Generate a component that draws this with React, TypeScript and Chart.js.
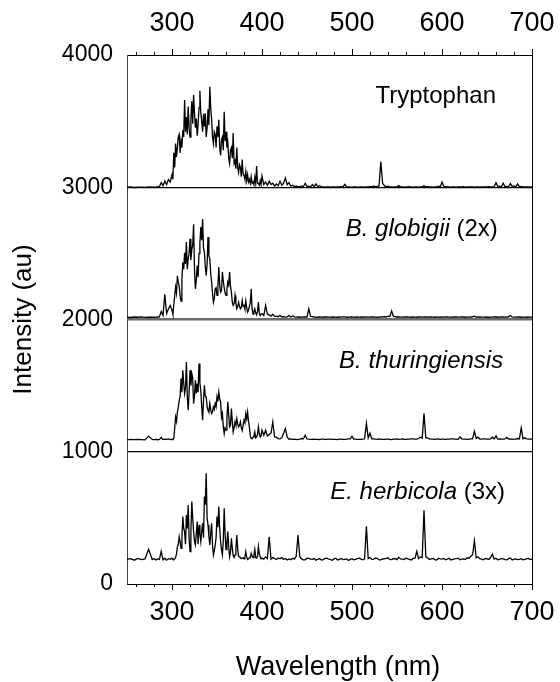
import React, { useEffect, useRef } from "react";
import { Chart, registerables } from "chart.js";

Chart.register(...registerables);

const FONT = "'Liberation Sans', Arial, Helvetica, sans-serif";

// Wavelength grid (nm): coarse tails, 1 nm in the emission band
const WAVELENGTHS = [
  250, 254, 258, 262, 266, 270, 274, 278,
  280, 282, 284, 286, 288, 290, 292, 294, 296, 298,
  300, 301, 302, 303, 304, 305, 306, 307, 308, 309,
  310, 311, 312, 313, 314, 315, 316, 317, 318, 319,
  320, 321, 322, 323, 324, 325, 326, 327, 328, 329,
  330, 331, 332, 333, 334, 335, 336, 337, 338, 339,
  340, 341, 342, 343, 344, 345, 346, 347, 348, 349,
  350, 351, 352, 353, 354, 355, 356, 357, 358, 359,
  360, 361, 362, 363, 364, 365, 366, 367, 368, 369,
  370, 371, 372, 373, 374, 375, 376, 377, 378, 379,
  380, 381, 382, 383, 384, 385, 386, 387, 388, 389,
  390, 391, 392, 393, 394, 395, 396, 397, 398, 399,
  400,
  402, 404, 406, 408, 410, 412, 414, 416, 418, 420,
  422, 424, 426, 428, 430, 432, 434, 436, 438, 440,
  442, 444, 446, 448, 450, 452, 454, 456, 458, 460,
  462, 464, 466, 468, 470, 472, 474, 476, 478, 480,
  482, 484, 486, 488, 490, 492, 494, 496, 498, 500,
  502, 504, 506, 508, 510, 512, 514, 516, 518, 520,
  522, 524, 526, 528, 530, 532, 534, 536, 538, 540,
  542, 544, 546, 548, 550, 552, 554, 556, 558, 560,
  562, 564, 566, 568, 570, 572, 574, 576, 578, 580,
  582, 584, 586, 588, 590, 592, 594, 596, 598, 600,
  602, 604, 606, 608, 610, 612, 614, 616, 618, 620,
  622, 624, 626, 628, 630, 632, 634, 636, 638, 640,
  642, 644, 646, 648, 650, 652, 654, 656, 658, 660,
  662, 664, 666, 668, 670, 672, 674, 676, 678, 680,
  682, 684, 686, 688, 690, 692, 694, 696, 698, 700,
];

const TRYPTOPHAN = [
  3000, 3002, 2998, 3001, 3000, 2999, 3003, 3000,
  3001, 3000, 3005, 3003, 3035, 3012, 3048, 3020, 3058, 3040,
  3095, 3060, 3260, 3150, 3330, 3230, 3300, 3380, 3400, 3260,
  3350, 3300, 3430, 3380, 3660, 3420, 3530, 3400, 3610, 3450,
  3380, 3520, 3650, 3480, 3700, 3560, 3450, 3520, 3390, 3470,
  3600, 3730, 3560, 3500, 3420, 3555, 3460, 3560, 3380, 3450,
  3590, 3470, 3760, 3600, 3520, 3380, 3330, 3420, 3400, 3300,
  3460, 3380, 3510, 3300, 3240, 3360, 3380, 3280, 3570, 3350,
  3420, 3300, 3340, 3220, 3180, 3280, 3300, 3220, 3410, 3180,
  3200, 3140, 3300, 3150, 3110, 3170, 3150, 3080, 3210, 3100,
  3090, 3060, 3120, 3050, 3095, 3040, 3060, 3030, 3080, 3030,
  3040, 3020, 3075, 3030, 3160, 3030, 3030, 3015, 3050, 3020,
  3085,
  3020, 3040, 3015, 3045, 3020, 3030, 3010, 3025, 3012, 3045,
  3015, 3030, 3070, 3020, 3035, 3008, 3015, 3005, 3010, 3004,
  3005, 3010, 3004, 3030, 3006, 3008, 3003, 3020, 3005, 3025,
  3004, 3012, 3002, 3003, 3001, 3002, 3003, 3001, 3002, 3003,
  3001, 3002, 3003, 3004, 3002, 3022, 3003, 3003, 3001, 3001,
  3002, 3002, 3001, 3000, 3002, 3003, 3001, 3002, 3003, 3004,
  3003, 3010, 3004, 3006, 3010, 3195, 3030, 3012, 3004, 3008,
  3002, 3003, 3001, 3002, 3003, 3012, 3002, 3003, 3001, 3002,
  3003, 3004, 3002, 3001, 3002, 3003, 3001, 3002, 3003, 3012,
  3003, 3004, 3002, 3002, 3001, 3003, 3002, 3008, 3003, 3040,
  3006, 3005, 3003, 3002, 3001, 3003, 3002, 3001, 3003, 3002,
  3002, 3004, 3001, 3002, 3003, 3003, 3002, 3001, 3002, 3002,
  3001, 3003, 3002, 3002, 3003, 3004, 3002, 3003, 3004, 3035,
  3005, 3008, 3004, 3030, 3003, 3006, 3004, 3028, 3005, 3010,
  3003, 3025, 3004, 3004, 3002, 3003, 3002, 3002, 3001, 3003,
];

const GLOBIGII = [
  2018, 2015, 2019, 2017, 2020, 2016, 2018, 2017,
  2018, 2016, 2019, 2020, 2060, 2030, 2190, 2045, 2080, 2105,
  2070, 2040, 2110, 2180, 2245, 2200, 2330, 2280, 2255, 2180,
  2140, 2300, 2430, 2380, 2505, 2420, 2585, 2380, 2460, 2500,
  2610, 2450, 2530, 2560, 2720, 2380, 2232, 2300, 2408, 2320,
  2500, 2580, 2700, 2600, 2760, 2540, 2508, 2400, 2333, 2420,
  2623, 2480, 2460, 2350, 2283, 2200, 2131, 2160, 2232, 2240,
  2182, 2250, 2396, 2260, 2207, 2220, 2358, 2290, 2240, 2200,
  2182, 2230, 2283, 2260, 2358, 2250, 2207, 2130, 2106, 2120,
  2182, 2120, 2081, 2100, 2131, 2100, 2081, 2090, 2144, 2100,
  2106, 2080, 2140, 2090, 2056, 2070, 2100, 2130, 2232, 2080,
  2040, 2060, 2081, 2050, 2035, 2060, 2131, 2050, 2030, 2040,
  2045,
  2030, 2106, 2040, 2035, 2025, 2040, 2022, 2025, 2020, 2032,
  2019, 2021, 2018, 2020, 2030, 2019, 2027, 2020, 2018, 2019,
  2017, 2018, 2019, 2020, 2019, 2080, 2024, 2022, 2019, 2018,
  2017, 2019, 2018, 2017, 2019, 2020, 2018, 2018, 2017, 2019,
  2018, 2017, 2019, 2018, 2020, 2020, 2017, 2018, 2019, 2019,
  2018, 2017, 2019, 2018, 2017, 2020, 2018, 2019, 2018, 2018,
  2019, 2020, 2018, 2017, 2018, 2019, 2020, 2022, 2019, 2025,
  2022, 2065, 2024, 2022, 2019, 2019, 2018, 2018, 2019, 2020,
  2019, 2018, 2017, 2019, 2018, 2017, 2019, 2019, 2018, 2020,
  2019, 2018, 2020, 2019, 2018, 2017, 2019, 2018, 2017, 2020,
  2018, 2019, 2019, 2018, 2018, 2017, 2020, 2019, 2018, 2018,
  2019, 2020, 2017, 2018, 2018, 2019, 2020, 2025, 2018, 2020,
  2019, 2018, 2018, 2019, 2017, 2017, 2018, 2018, 2019, 2019,
  2017, 2018, 2019, 2020, 2018, 2019, 2020, 2030, 2019, 2018,
  2018, 2019, 2019, 2017, 2018, 2018, 2017, 2019, 2018, 2018,
];

const THURINGIENSIS = [
  1090, 1093, 1091, 1094, 1092, 1090, 1118, 1093,
  1092, 1094, 1091, 1093, 1108, 1092, 1095, 1093, 1097, 1092,
  1096, 1094, 1100, 1180, 1263, 1230, 1301, 1340, 1389, 1420,
  1553, 1450, 1616, 1520, 1440, 1480, 1679, 1420, 1314, 1450,
  1616, 1500, 1590, 1560, 1364, 1420, 1541, 1440, 1515, 1450,
  1667, 1520, 1465, 1340, 1238, 1390, 1503, 1420, 1415, 1340,
  1314, 1300, 1364, 1320, 1289, 1300, 1339, 1320, 1364, 1340,
  1415, 1380, 1452, 1400, 1380, 1260, 1289, 1190, 1137, 1180,
  1163, 1250, 1377, 1280, 1188, 1200, 1326, 1230, 1150, 1180,
  1226, 1200, 1251, 1210, 1188, 1200, 1226, 1180, 1160, 1200,
  1238, 1220, 1289, 1250, 1301, 1230, 1188, 1120, 1100, 1098,
  1110, 1120, 1150, 1105, 1112, 1130, 1188, 1140, 1112, 1120,
  1163,
  1125, 1163, 1120, 1130, 1140, 1226, 1112, 1110, 1100, 1098,
  1105, 1140, 1175, 1110, 1095, 1097, 1093, 1096, 1092, 1094,
  1096, 1100, 1098, 1125, 1097, 1095, 1094, 1093, 1096, 1094,
  1093, 1092, 1095, 1095, 1094, 1093, 1096, 1096, 1093, 1094,
  1094, 1092, 1096, 1095, 1094, 1093, 1095, 1098, 1097, 1118,
  1096, 1095, 1093, 1093, 1094, 1096, 1098, 1215, 1105, 1140,
  1098, 1097, 1095, 1094, 1097, 1096, 1094, 1093, 1096, 1095,
  1093, 1092, 1095, 1096, 1097, 1094, 1095, 1097, 1094, 1093,
  1096, 1095, 1097, 1098, 1096, 1096, 1100, 1110, 1102, 1290,
  1105, 1105, 1097, 1096, 1095, 1094, 1096, 1097, 1094, 1095,
  1096, 1093, 1095, 1096, 1097, 1098, 1096, 1095, 1094, 1112,
  1098, 1096, 1095, 1094, 1096, 1097, 1098, 1155, 1100, 1110,
  1096, 1095, 1097, 1098, 1095, 1096, 1098, 1110, 1097, 1120,
  1096, 1098, 1095, 1096, 1097, 1108, 1096, 1097, 1094, 1095,
  1096, 1100, 1097, 1180, 1098, 1105, 1097, 1096, 1095, 1098,
];

const HERBICOLA = [
  186, 192, 180, 194, 184, 190, 262, 185,
  193, 182, 190, 186, 247, 183, 195, 180, 191, 186,
  195, 188, 182, 190, 200, 230, 280, 300, 358, 320,
  270, 340, 510, 420, 396, 300, 522, 420, 598, 350,
  245, 400, 623, 500, 396, 320, 295, 380, 472, 300,
  447, 380, 321, 400, 459, 350, 661, 600, 837, 500,
  447, 360, 295, 380, 459, 300, 220, 250, 295, 350,
  510, 430, 585, 420, 321, 260, 220, 330, 573, 380,
  260, 300, 396, 280, 205, 240, 346, 270, 215, 200,
  220, 270, 371, 260, 210, 205, 200, 192, 195, 200,
  190, 200, 245, 205, 185, 190, 198, 200, 232, 210,
  200, 215, 262, 200, 196, 210, 283, 230, 205, 190,
  196,
  188, 205, 192, 356, 188, 200, 193, 185, 197, 190,
  199, 186, 193, 181, 189, 184, 195, 188, 210, 371,
  205, 190, 182, 183, 195, 194, 188, 186, 192, 180,
  187, 192, 181, 185, 194, 196, 189, 184, 180, 190,
  195, 182, 186, 193, 184, 187, 190, 178, 186, 191,
  183, 186, 192, 195, 188, 183, 190, 437, 192, 200,
  186, 188, 195, 194, 182, 183, 189, 190, 193, 198,
  186, 185, 191, 192, 184, 202, 190, 188, 185, 196,
  190, 186, 182, 193, 196, 247, 192, 205, 200, 557,
  205, 198, 186, 190, 194, 185, 182, 194, 190, 188,
  193, 183, 188, 195, 182, 186, 190, 192, 195, 184,
  188, 190, 186, 198, 195, 210, 220, 327, 198, 205,
  192, 188, 183, 193, 190, 186, 200, 227, 188, 195,
  183, 186, 194, 190, 185, 183, 192, 196, 181, 188,
  190, 184, 187, 192, 183, 186, 191, 194, 185, 189,
];

const SERIES_NAMES = ["Tryptophan", "B. globigii (2x)", "B. thuringiensis", "E. herbicola (3x)"];
const SERIES = [TRYPTOPHAN, GLOBIGII, THURINGIENSIS, HERBICOLA];

// Panel label text: [text, italic]
const PANEL_LABELS: [string, boolean][][] = [
  [["Tryptophan", false]],
  [["B. globigii", true], [" (2x)", false]],
  [["B. thuringiensis", true]],
  [["E. herbicola", true], [" (3x)", false]],
];
// Anchor (right edge in nm, vertical centre in intensity units)
const LABEL_ANCHORS = [
  { nm: 660, value: 3685 },
  { nm: 662, value: 2680 },
  { nm: 668, value: 1680 },
  { nm: 670, value: 690 },
];

const X_LABEL_TICKS = [300, 400, 500, 600, 700];
const X_MINOR_TICKS = [
  260, 280, 300, 320, 340, 360, 380, 400, 420, 440, 460, 480,
  500, 520, 540, 560, 580, 600, 620, 640, 660, 680, 700,
];
const Y_TICKS = [0, 1000, 2000, 3000, 4000];
const SEPARATORS = [1000, 2000, 3000];

const X_TITLE = "Wavelength (nm)";
const Y_TITLE = "Intensity (au)";

const decorPlugin = {
  id: "decor",
  afterDraw(chart: any) {
    const ctx = chart.ctx;
    const xB = chart.scales.x;
    const ys = chart.scales.y;
    const area = chart.chartArea;
    ctx.save();
    ctx.strokeStyle = "#000";
    ctx.lineWidth = 1;
    for (const v of X_MINOR_TICKS) {
      const px = Math.round(xB.getPixelForValue(v)) + 0.5;
      const len = v % 100 === 0 ? 6 : 3;
      ctx.beginPath();
      ctx.moveTo(px, area.bottom);
      ctx.lineTo(px, area.bottom + len);
      ctx.moveTo(px, area.top);
      ctx.lineTo(px, area.top - len);
      ctx.stroke();
    }
    ctx.fillStyle = "#000";
    ctx.textBaseline = "middle";
    ctx.textAlign = "left";
    PANEL_LABELS.forEach((parts, i) => {
      const a = LABEL_ANCHORS[i];
      const right = xB.getPixelForValue(a.nm);
      const yy = ys.getPixelForValue(a.value);
      const widths = parts.map(([t, it]) => {
        ctx.font = `${it ? "italic " : ""}24px ${FONT}`;
        return ctx.measureText(t).width;
      });
      let x = right - widths.reduce((s, w) => s + w, 0);
      parts.forEach(([t, it], k) => {
        ctx.font = `${it ? "italic " : ""}24px ${FONT}`;
        ctx.fillText(t, x, yy);
        x += widths[k];
      });
    });
    ctx.font = `27px ${FONT}`;
    ctx.textAlign = "center";
    ctx.fillText(X_TITLE, (area.left + area.right) / 2 + 8.5, area.bottom + 84);
    ctx.restore();
  },
};

export default function App() {
  const canvasRef = useRef<HTMLCanvasElement | null>(null);

  useEffect(() => {
    const canvas = canvasRef.current;
    if (!canvas) return;
    const datasets = SERIES.map((vals, i) => ({
      label: SERIES_NAMES[i],
      data: WAVELENGTHS.map((w, k) => ({ x: w, y: vals[k] })),
      borderColor: "#000",
      borderWidth: 1.3,
      pointRadius: 0,
      fill: false,
      tension: 0,
      xAxisID: "x",
      yAxisID: "y",
    }));
    const setXTicks = (scale: any) => {
      scale.ticks = X_LABEL_TICKS.map((v) => ({ value: v }));
    };
    const fitX = (h: number) => (s: any) => {
      s.height = h;
      s.paddingLeft = 0;
      s.paddingRight = 0;
    };
    const chart = new Chart(canvas, {
      type: "line",
      data: { datasets },
      options: {
        animation: false,
        responsive: false,
        devicePixelRatio: 1,
        layout: { padding: 0 },
        plugins: { legend: { display: false }, tooltip: { enabled: false } },
        scales: {
          x: {
            type: "linear",
            position: "bottom",
            min: 250,
            max: 700,
            afterBuildTicks: setXTicks,
            afterFit: fitX(98),
            grid: { display: false, drawTicks: false },
            border: { display: true, color: "#000", width: 1 },
            ticks: { color: "#000", padding: 12, font: { size: 27, family: FONT }, maxRotation: 0, autoSkip: false },
          },
          x2: {
            type: "linear",
            position: "top",
            min: 250,
            max: 700,
            afterBuildTicks: setXTicks,
            afterFit: fitX(55),
            grid: { display: false, drawTicks: false },
            border: { display: true, color: "#000", width: 1 },
            ticks: { color: "#000", padding: 15, font: { size: 27, family: FONT }, maxRotation: 0, autoSkip: false },
          },
          y: {
            type: "linear",
            position: "left",
            min: 0,
            max: 4000,
            afterBuildTicks: (s: any) => { s.ticks = Y_TICKS.map((v) => ({ value: v })); },
            afterFit: (s: any) => { s.width = 127; s.paddingTop = 0; s.paddingBottom = 0; },
            grid: {
              display: true,
              drawOnChartArea: true,
              drawTicks: false,
              color: (c: any) => {
                const v = c.tick && c.tick.value;
                if (!SEPARATORS.includes(v)) return "rgba(0,0,0,0)";
                return v === 2000 ? "#6a6a6a" : "#000";
              },
              lineWidth: (c: any) => (c.tick && c.tick.value === 2000 ? 2.5 : 1.2),
            },
            border: { display: true, color: "#444", width: 1 },
            ticks: {
              color: "#000",
              padding: 14,
              font: { size: 23, family: FONT },
              callback: (v: any) => String(v),
            },
            title: {
              display: true,
              text: Y_TITLE,
              color: "#000",
              font: { size: 26, family: FONT, lineHeight: 1 },
              padding: { top: 11, bottom: 0 },
            },
          },
          yR: {
            type: "linear",
            position: "right",
            min: 0,
            max: 4000,
            afterFit: (s: any) => { s.width = 28; },
            grid: { display: false, drawTicks: false },
            border: { display: true, color: "#000", width: 1 },
            ticks: { display: false },
          },
        },
      },
      plugins: [decorPlugin],
    });
    return () => chart.destroy();
  }, []);

  return (
    <div style={{ position: "absolute", left: 0, top: 0, width: 560, height: 682, background: "#fff" }}>
      <canvas ref={canvasRef} width={560} height={682} style={{ display: "block" }} />
    </div>
  );
}
